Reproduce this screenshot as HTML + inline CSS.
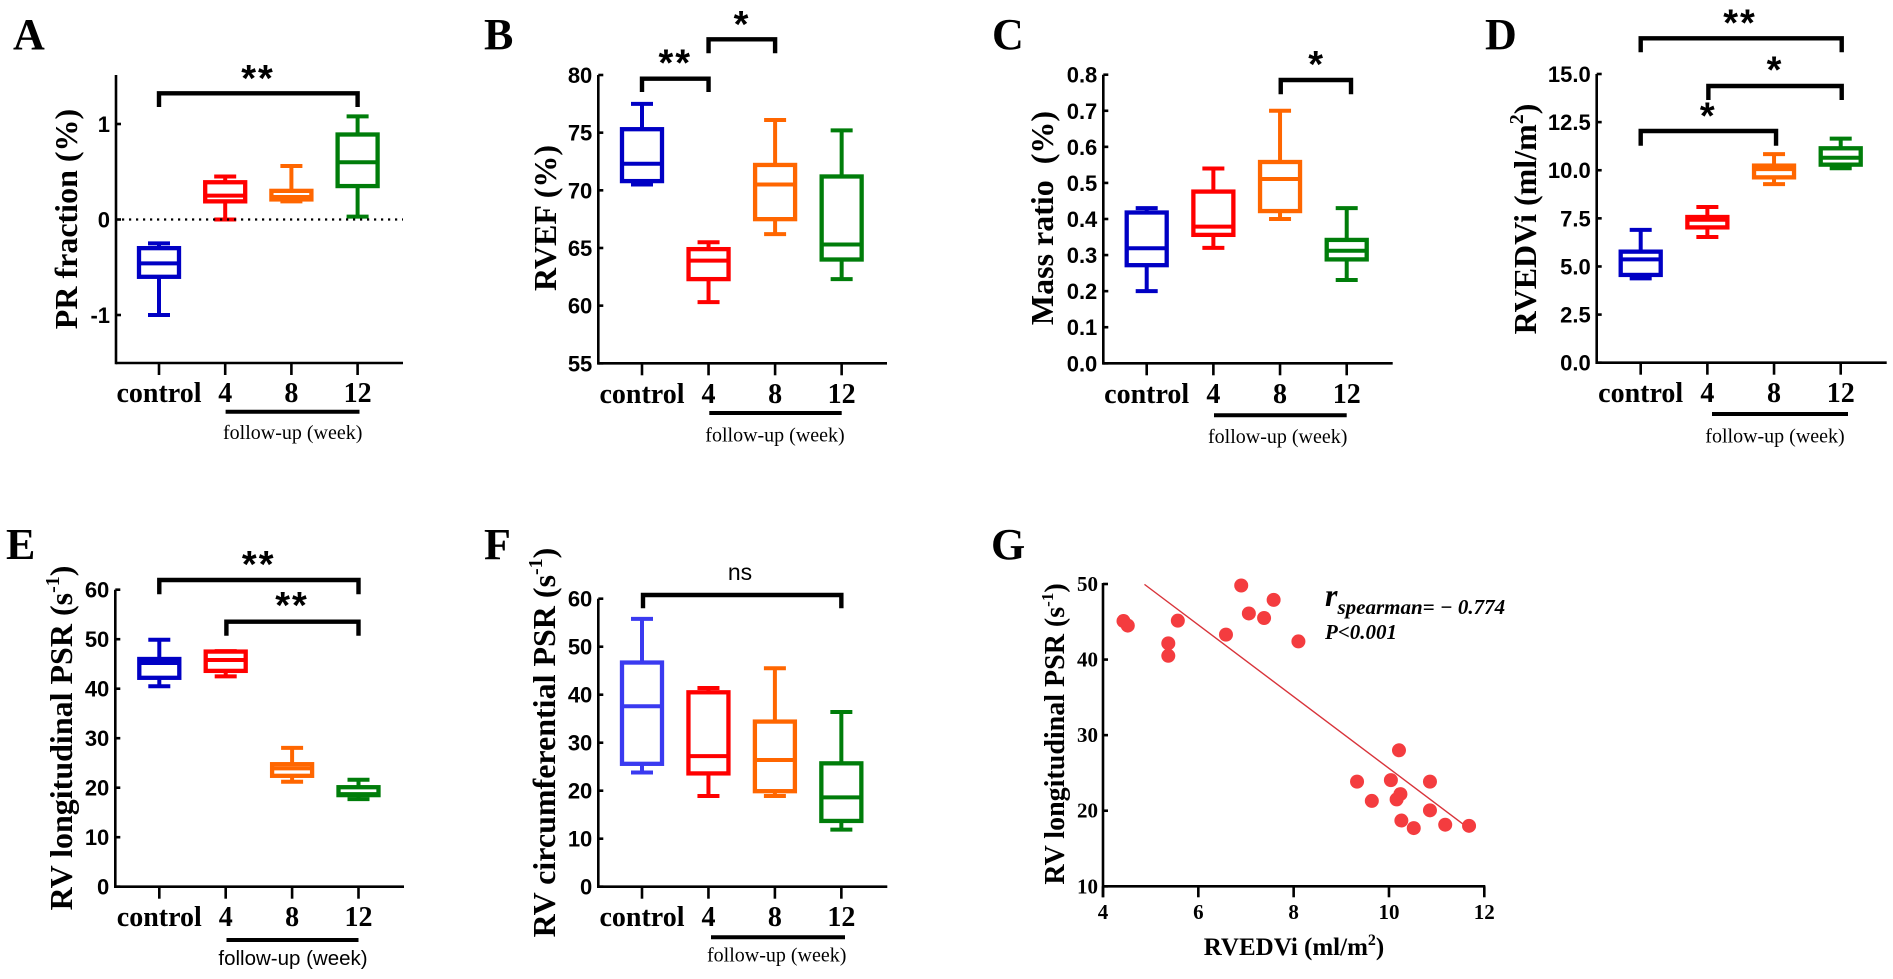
<!DOCTYPE html>
<html lang="en">
<head>
<meta charset="utf-8">
<title>RV function box plots and correlation</title>
<style>
html,body{margin:0;padding:0;background:#fff;}
svg{display:block;}
text{fill:#000;}
.letter{font:bold 44px "Liberation Serif",serif;}
.ytitle{font:bold 32px "Liberation Serif",serif;text-anchor:middle;white-space:pre;}
.tick{font:bold 22px "Liberation Sans",sans-serif;text-anchor:end;}
.cat{font:bold 28px "Liberation Serif",serif;text-anchor:middle;}
.fu{font:20px "Liberation Serif",serif;text-anchor:middle;}
.fus{font:20.5px "Liberation Sans",sans-serif;text-anchor:middle;}
.star{font:bold 38px "Liberation Sans",sans-serif;text-anchor:middle;letter-spacing:2px;}
.ns{font:23px "Liberation Sans",sans-serif;text-anchor:middle;}
.gtick{font:bold 21px "Liberation Serif",serif;}
.gtitle{font:bold 28px "Liberation Serif",serif;text-anchor:middle;}
.gx{font:bold 25px "Liberation Serif",serif;text-anchor:middle;}
.stat{font:italic bold 21px "Liberation Serif",serif;}
</style>
</head>
<body>
<svg id="figure" xmlns="http://www.w3.org/2000/svg" width="1893" height="979" viewBox="0 0 1893 979">
<rect width="1893" height="979" fill="#fff"/>

<g id="panel-a">
<text class="letter" x="13" y="49">A</text>
<text class="ytitle" transform="translate(77,219) rotate(-90)">PR fraction (%)</text>
<text class="star" x="258" y="91">**</text>
<text class="fu" x="292.7" y="439">follow-up (week)</text>
</g>

<g id="panel-b">
<text class="letter" x="484" y="49">B</text>
<text class="ytitle" transform="translate(556,218) rotate(-90)">RVEF (%)</text>
<text class="star" x="675.3" y="75.3">**</text>
<text class="star" x="742" y="37">*</text>
<text class="fu" x="775" y="441.7">follow-up (week)</text>
</g>

<g id="panel-c">
<text class="letter" x="992" y="49">C</text>
<text class="ytitle" transform="translate(1053,218) rotate(-90)">Mass ratio  (%)</text>
<text class="star" x="1316.7" y="77">*</text>
<text class="fu" x="1277.7" y="443">follow-up (week)</text>
</g>

<g id="panel-d">
<text class="letter" x="1485" y="49">D</text>
<text class="ytitle" transform="translate(1536,219) rotate(-90)">RVEDVi (ml/m<tspan font-size="20" dy="-13">2</tspan><tspan dy="13">)</tspan></text>
<text class="star" x="1740" y="35.3">**</text>
<text class="star" x="1775" y="82.7">*</text>
<text class="star" x="1708.3" y="128.7">*</text>
<text class="fu" x="1775" y="442.7">follow-up (week)</text>
</g>

<g id="panel-e">
<text class="letter" x="6" y="559">E</text>
<text class="ytitle" transform="translate(72,738) rotate(-90)">RV longitudinal PSR (s<tspan font-size="20" dy="-13">-1</tspan><tspan dy="13">)</tspan></text>
<text class="star" x="258.7" y="577">**</text>
<text class="star" x="292" y="618">**</text>
<text class="fus" x="293" y="965">follow-up (week)</text>
</g>

<g id="panel-f">
<text class="letter" x="484" y="559">F</text>
<text class="ytitle" transform="translate(555,742.5) rotate(-90)">RV circumferential PSR (s<tspan font-size="20" dy="-13">-1</tspan><tspan dy="13">)</tspan></text>
<text class="ns" x="740" y="580">ns</text>
<text class="fu" x="776.7" y="961.7">follow-up (week)</text>
</g>

<g id="panel-g">
<text class="letter" x="991" y="559">G</text>
<text class="gtitle" transform="translate(1064,734) rotate(-90)">RV longitudinal PSR (s<tspan font-size="17" dy="-11">-1</tspan><tspan dy="11">)</tspan></text>
<text class="gx" x="1294" y="955">RVEDVi (ml/m<tspan font-size="16" dy="-10">2</tspan><tspan dy="10">)</tspan></text>
<text class="stat" x="1325" y="606"><tspan font-size="32">r</tspan><tspan dy="8">spearman= − 0.774</tspan></text>
<text class="stat" x="1325" y="639">P&lt;0.001</text>
</g>
</svg>

<script>
const categories = ["control", "4", "8", "12"];

// each box: [low whisker, Q1, median, Q3, high whisker]
const panelAControl = [-1.0, -0.60, -0.46, -0.30, -0.25];
const panelAWeek4 = [0.0, 0.19, 0.25, 0.39, 0.45];
const panelAWeek8 = [0.19, 0.21, 0.235, 0.30, 0.56];
const panelAWeek12 = [0.03, 0.35, 0.60, 0.89, 1.08];
const panelATicks = ["-1", "0", "1"];

const panelBControl = [70.5, 70.8, 72.3, 75.3, 77.5];
const panelBWeek4 = [60.3, 62.3, 63.9, 64.9, 65.5];
const panelBWeek8 = [66.2, 67.5, 70.5, 72.2, 76.1];
const panelBWeek12 = [62.3, 64.0, 65.3, 71.2, 75.2];
const panelBTicks = ["55", "60", "65", "70", "75", "80"];

const panelCControl = [0.20, 0.272, 0.319, 0.418, 0.43];
const panelCWeek4 = [0.32, 0.356, 0.379, 0.476, 0.54];
const panelCWeek8 = [0.40, 0.422, 0.511, 0.558, 0.70];
const panelCWeek12 = [0.231, 0.288, 0.312, 0.342, 0.43];
const panelCTicks = ["0.0", "0.1", "0.2", "0.3", "0.4", "0.5", "0.6", "0.7", "0.8"];

const panelDControl = [4.38, 4.56, 5.37, 5.77, 6.9];
const panelDWeek4 = [6.53, 7.03, 7.43, 7.57, 8.09];
const panelDWeek8 = [9.28, 9.63, 10.06, 10.24, 10.84];
const panelDWeek12 = [10.1, 10.29, 10.65, 11.14, 11.64];
const panelDTicks = ["0.0", "2.5", "5.0", "7.5", "10.0", "12.5", "15.0"];

const panelEControl = [40.5, 42.2, 45.2, 46.0, 49.9];
const panelEWeek4 = [42.5, 43.6, 45.8, 47.5, 47.6];
const panelEWeek8 = [21.2, 22.4, 23.9, 24.75, 28.05];
const panelEWeek12 = [17.7, 18.5, 18.7, 20.1, 21.6];
const panelETicks = ["0", "10", "20", "30", "40", "50", "60"];

const panelFControl = [23.8, 25.6, 37.6, 46.7, 55.8];
const panelFWeek4 = [18.9, 23.6, 27.2, 40.5, 41.4];
const panelFWeek8 = [18.9, 19.9, 26.4, 34.4, 45.5];
const panelFWeek12 = [11.9, 13.7, 18.6, 25.7, 36.4];
const panelFTicks = ["0", "10", "20", "30", "40", "50", "60"];

const scatterX = [4.43, 4.52, 5.37, 5.37, 5.57, 6.58, 6.9, 7.06, 7.38, 7.58, 8.1, 9.33, 9.64, 10.04, 10.21, 10.16, 10.24, 10.26, 10.52, 10.86, 10.86, 11.18, 11.68];
const scatterY = [45.1, 44.5, 42.15, 40.5, 45.15, 43.3, 49.8, 46.1, 45.5, 47.9, 42.4, 23.85, 21.3, 24.05, 28.0, 21.5, 22.2, 18.7, 17.7, 23.85, 20.05, 18.15, 18.0];
const fitLineX = [4.87, 11.56];
const fitLineY = [49.95, 18.2];
const scatterXTicks = ["4", "6", "8", "10", "12"];
const scatterYTicks = ["10", "20", "30", "40", "50"];

const SVG_NS = "http://www.w3.org/2000/svg";

function shape(parent, tag, attrs) {
  const el = document.createElementNS(SVG_NS, tag);
  for (const key in attrs) el.setAttribute(key, attrs[key]);
  parent.appendChild(el);
  return el;
}

function linearScale(d0, d1, r0, r1) {
  return function (v) { return r0 + (v - d0) * (r1 - r0) / (d1 - d0); };
}

function drawAxes(group, cfg, x, y, tickLabels) {
  const yAxis = shape(group, "line", {x1: cfg.axisX, x2: cfg.axisX, y1: cfg.axisTop, y2: cfg.axisBottom + 1.3, stroke: "#000", "stroke-width": 2.6});
  
  
  const xAxis = shape(group, "line", {x1: cfg.axisX, x2: cfg.axisRight, y1: cfg.axisBottom, y2: cfg.axisBottom, stroke: "#000", "stroke-width": 2.6});
  
  
  tickLabels.forEach(function (label) {
    const py = y(parseFloat(label));
    const tick = shape(group, "line", {x1: cfg.axisX, x2: cfg.axisX + 5, y1: py, y2: py, stroke: "#000", "stroke-width": 2.6});
    
    
    const text = shape(group, "text", {class: "tick", x: cfg.axisX - 6, y: py + 8});
    
    
    text.textContent = label;
  });
  categories.forEach(function (label, i) {
    const px = x(i);
    const tick = shape(group, "line", {x1: px, x2: px, y1: cfg.axisBottom, y2: cfg.axisBottom + 12, stroke: "#000", "stroke-width": 2.6});
    
    
    const text = shape(group, "text", {class: "cat", x: px, y: cfg.catBaseline});
    
    
    text.textContent = label;
  });
  const rule = shape(group, "line", {x1: cfg.ruleFrom, x2: cfg.ruleTo, y1: cfg.ruleY, y2: cfg.ruleY, stroke: "#000", "stroke-width": 4});
  
  
}

function drawBox(group, px, y, values, color) {
  const low = values[0], q1 = values[1], med = values[2], q3 = values[3], high = values[4];
  const box = shape(group, "g", {fill: "none", stroke: color});
  
  
  const sw = 4, half = 20, cap = 11;
  const upper = shape(box, "line", {x1: px, x2: px, y1: y(q3), y2: y(high), "stroke-width": sw});
  
  
  const lower = shape(box, "line", {x1: px, x2: px, y1: y(q1), y2: y(low), "stroke-width": sw});
  
  
  const capHigh = shape(box, "line", {x1: px - cap, x2: px + cap, y1: y(high), y2: y(high), "stroke-width": sw});
  
  
  const capLow = shape(box, "line", {x1: px - cap, x2: px + cap, y1: y(low), y2: y(low), "stroke-width": sw});
  
  
  const rect = shape(box, "rect", {x: px - half, width: half * 2, y: y(q3), height: y(q1) - y(q3), fill: "#fff", "stroke-width": sw + 0.3});
  
  
  const median = shape(box, "line", {x1: px - half, x2: px + half, y1: y(med), y2: y(med), "stroke-width": sw});
  
  
}

function drawBracket(group, x, from, to, top, bottom, dxFrom, dxTo) {
  const x0 = x(from) + dxFrom, x1 = x(to) + dxTo;
  const br = shape(group, "path", {d: "M" + x0 + " " + bottom + "V" + top + "H" + x1 + "V" + bottom, fill: "none", stroke: "#000", "stroke-width": 4.4});
  
  
}

function drawBoxPanel(cfg, series, ticks, brackets) {
  const group = document.getElementById(cfg.id);
  const x = function (i) { return cfg.xStart + i * cfg.xStep; };
  const y = linearScale(cfg.d0, cfg.d1, cfg.r0, cfg.r1);
  drawAxes(group, cfg, x, y, ticks);
  const colors = cfg.colors || ["#0000c4", "#ff0000", "#ff6600", "#007d0a"];
  series.forEach(function (values, i) { drawBox(group, x(i), y, values, colors[i]); });
  brackets.forEach(function (b) { drawBracket(group, x, b[0], b[1], b[2], b[3], b[4] || 0, b[5] || 0); });
  return {group: group, y: y};
}

const panelA = drawBoxPanel(
  {id: "panel-a", axisX: 116, axisTop: 75, axisBottom: 363, axisRight: 403, xStart: 159, xStep: 66.2, d0: -1, d1: 1, r0: 315, r1: 124, catBaseline: 402, ruleFrom: 225.6, ruleTo: 359.5, ruleY: 411.7},
  [panelAControl, panelAWeek4, panelAWeek8, panelAWeek12], panelATicks,
  [[0, 3, 93.3, 107]]);
const zeroLine = shape(panelA.group, "line", {x1: 122, x2: 403, y1: panelA.y(0), y2: panelA.y(0), stroke: "#000", "stroke-width": 2.2, "stroke-dasharray": "2.2 4.8"});



drawBoxPanel(
  {id: "panel-b", axisX: 598.3, axisTop: 75, axisBottom: 363.3, axisRight: 887, xStart: 642, xStep: 66.55, d0: 55, d1: 80, r0: 363.3, r1: 75, catBaseline: 403, ruleFrom: 709.3, ruleTo: 841.7, ruleY: 413},
  [panelBControl, panelBWeek4, panelBWeek8, panelBWeek12], panelBTicks,
  [[0, 1, 78.7, 92], [1, 2, 39.3, 53.3]]);

drawBoxPanel(
  {id: "panel-c", axisX: 1103.3, axisTop: 74.7, axisBottom: 363.3, axisRight: 1392.7, xStart: 1146.7, xStep: 66.67, d0: 0, d1: 0.8, r0: 363.3, r1: 74.7, catBaseline: 403, ruleFrom: 1214, ruleTo: 1346.7, ruleY: 415.3},
  [panelCControl, panelCWeek4, panelCWeek8, panelCWeek12], panelCTicks,
  [[2, 3, 80, 94.3, 0.7, 4.3]]);

drawBoxPanel(
  {id: "panel-d", axisX: 1596.7, axisTop: 74, axisBottom: 362.7, axisRight: 1886.7, xStart: 1640.7, xStep: 66.67, d0: 0, d1: 15, r0: 362.7, r1: 74, catBaseline: 402, ruleFrom: 1712, ruleTo: 1848, ruleY: 414},
  [panelDControl, panelDWeek4, panelDWeek8, panelDWeek12], panelDTicks,
  [[0, 3, 38.3, 52.3, 0, 1], [1, 3, 86, 100, 1, 1], [0, 2, 131, 145.7, 0, 2]]);

drawBoxPanel(
  {id: "panel-e", axisX: 115.3, axisTop: 589.7, axisBottom: 886.7, axisRight: 404, xStart: 159.3, xStep: 66.4, d0: 0, d1: 60, r0: 886.7, r1: 589.7, catBaseline: 926, ruleFrom: 226.5, ruleTo: 358.5, ruleY: 940},
  [panelEControl, panelEWeek4, panelEWeek8, panelEWeek12], panelETicks,
  [[0, 3, 580, 594.3], [1, 3, 621.7, 635.7, 0.7, 0]]);

drawBoxPanel(
  {id: "panel-f", axisX: 598.3, axisTop: 598.7, axisBottom: 886.7, axisRight: 887.3, xStart: 642, xStep: 66.45, d0: 0, d1: 60, r0: 886.7, r1: 598.7, catBaseline: 926, ruleFrom: 711, ruleTo: 845, ruleY: 937.3, colors: ["#3a3af0", "#ff0000", "#ff6600", "#007d0a"]},
  [panelFControl, panelFWeek4, panelFWeek8, panelFWeek12], panelFTicks,
  [[0, 3, 595, 608.3, 1, 0]]);

(function drawScatter() {
  const group = document.getElementById("panel-g");
  const x = linearScale(4, 12, 1103, 1484.3);
  const y = linearScale(10, 50, 886.3, 584);
  const yAxis = shape(group, "line", {x1: x(4), x2: x(4), y1: y(50) - 1, y2: y(10) + 11, stroke: "#000", "stroke-width": 2.6});
  
  
  const xAxis = shape(group, "line", {x1: x(4), x2: x(12) + 1, y1: y(10), y2: y(10), stroke: "#000", "stroke-width": 2.6});
  
  
  scatterXTicks.forEach(function (label) {
    const px = x(parseFloat(label));
    const tick = shape(group, "line", {x1: px, x2: px, y1: y(10), y2: y(10) + 11, stroke: "#000", "stroke-width": 2.6});
    
    
    const text = shape(group, "text", {class: "gtick", x: px, y: 919, "text-anchor": "middle"});
    
    
    text.textContent = label;
  });
  scatterYTicks.forEach(function (label) {
    const py = y(parseFloat(label));
    const tick = shape(group, "line", {x1: x(4), x2: x(4) + 5, y1: py, y2: py, stroke: "#000", "stroke-width": 2.6});
    
    
    const text = shape(group, "text", {class: "gtick", x: x(4) - 5, y: py + 7, "text-anchor": "end"});
    
    
    text.textContent = label;
  });
  const fit = shape(group, "line", {x1: x(fitLineX[0]), x2: x(fitLineX[1]), y1: y(fitLineY[0]), y2: y(fitLineY[1]), stroke: "#d8333a", "stroke-width": 1.4});
  
  
  scatterX.forEach(function (vx, i) {
    const dot = shape(group, "circle", {cx: x(vx), cy: y(scatterY[i]), r: 7, fill: "#f43c3f"});
    
    
  });
})();
</script>
</body>
</html>
